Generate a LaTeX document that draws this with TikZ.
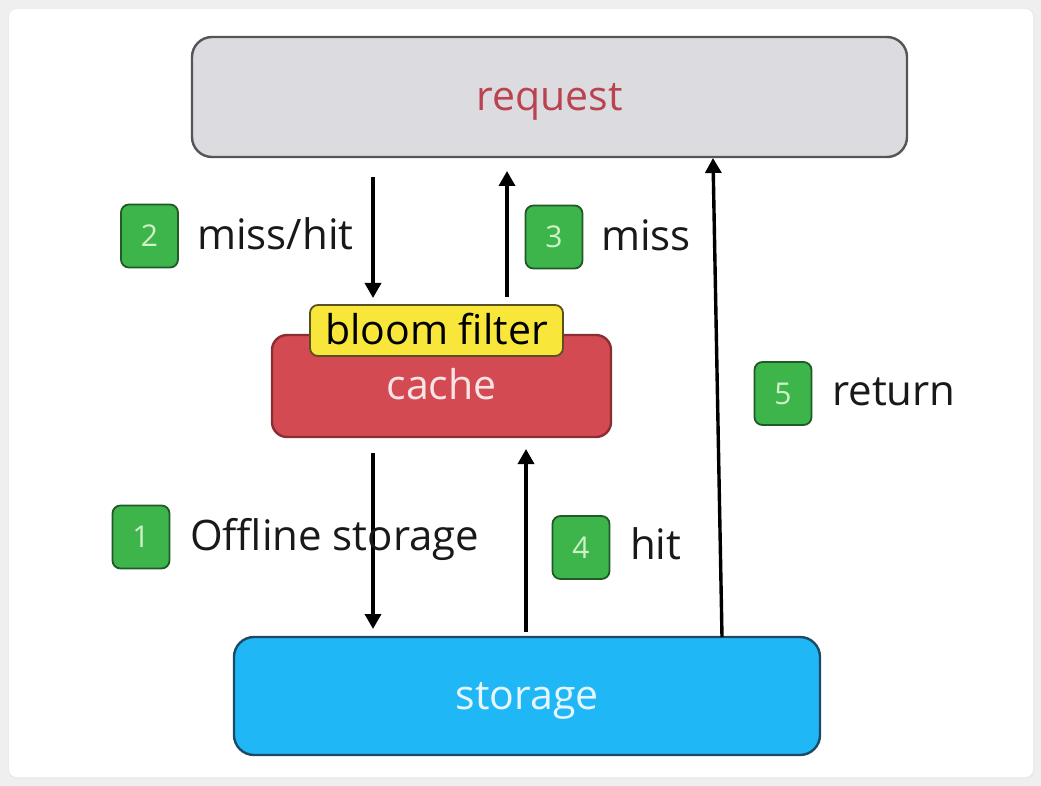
\documentclass[tikz,border=0pt]{standalone}
\usepackage{fontspec}
\setmainfont{Open Sans}
\usetikzlibrary{arrows.meta}
\definecolor{pagebg}{HTML}{EFEFEF}
\definecolor{reqfill}{HTML}{DCDCE0}
\definecolor{reqdraw}{HTML}{555558}
\definecolor{reqtext}{HTML}{B9434F}
\definecolor{cachefill}{HTML}{D44A52}
\definecolor{cachedraw}{HTML}{8A2E34}
\definecolor{cachetext}{HTML}{F8E4E4}
\definecolor{bloomfill}{HTML}{F8E63A}
\definecolor{bloomdraw}{HTML}{5A5020}
\definecolor{storfill}{HTML}{1FB7F6}
\definecolor{stordraw}{HTML}{1E4A66}
\definecolor{stortext}{HTML}{E6F6FF}
\definecolor{badgefill}{HTML}{3DB54B}
\definecolor{badgedraw}{HTML}{1F5A27}
\definecolor{badgetext}{HTML}{CFF2C8}
\tikzset{
  box/.style={draw, line width=2.4pt, inner sep=0pt, text height=27pt, text depth=0pt,
    font=\fontsize{41}{48}\selectfont},
  badge/.style={draw=badgedraw, fill=badgefill, line width=1.8pt, rounded corners=8pt,
    minimum width=57pt, minimum height=63pt, inner sep=0pt, text=badgetext,
    text height=21.4pt, text depth=0pt, font=\fontsize{30}{36}\selectfont},
  lbl/.style={anchor=west, inner sep=0pt, text=black!90, text height=22.5pt, text depth=0pt,
    font=\fontsize{42}{50}\selectfont},
  arr/.style={line width=3.4pt, -{Triangle[length=15pt,width=16pt]}}
}
\begin{document}
\begin{tikzpicture}[x=1pt,y=-1pt]
\fill[pagebg] (0,0) rectangle (1041,786);
\fill[black!8, rounded corners=9pt] (8,8) rectangle (1035,779);
\fill[white, rounded corners=8pt] (9,9) rectangle (1033,777);

\node[box, draw=reqdraw, fill=reqfill, text=reqtext, rounded corners=20pt,
  minimum width=715pt, minimum height=120pt] (request) at (549.5,97) {request};
\node[box, draw=cachedraw, fill=cachefill, text=cachetext, rounded corners=15pt,
  minimum width=339pt, minimum height=102pt] (cache) at (441.5,386) {cache};
\node[box, draw=bloomdraw, fill=bloomfill, text=black, rounded corners=8pt, line width=1.8pt,
  minimum width=253pt, minimum height=51pt] (bloom) at (436.5,330.5) {bloom filter};
\node[box, draw=stordraw, fill=storfill, text=stortext, rounded corners=20pt,
  minimum width=586pt, minimum height=118pt] (storage) at (527,696) {storage};

% arrow end points
\coordinate (a2s) at (373,177);
\coordinate (a2e) at (373,298);
\coordinate (a3s) at (507,297);
\coordinate (a3e) at (507,171);
\coordinate (a1s) at (373,453);
\coordinate (a1e) at (373,629);
\coordinate (a4s) at (526,632);
\coordinate (a4e) at (526,449);
\coordinate (a5s) at (722,637);
\coordinate (a5e) at (713,158);

\draw[arr] (a2s) -- (a2e);
\draw[arr] (a3s) -- (a3e);
\draw[arr] (a1s) -- (a1e);
\draw[arr] (a4s) -- (a4e);
\draw[arr] (a5s) -- (a5e);

% badges and labels
\node[badge] (b2) at (149.5,236) {2};
\node[lbl] (l2) at (197,238) {miss/hit};
\node[badge] (b3) at (554,237) {3};
\node[lbl] (l3) at (601,239) {miss};
\node[badge] (b5) at (783,393.5) {5};
\node[lbl] (l5) at (832,394) {return};
\node[badge] (b1) at (141,537) {1};
\node[lbl] (l1) at (190,539) {Offline storage};
\node[badge] (b4) at (581,547.5) {4};
\node[lbl] (l4) at (630,548) {hit};
\end{tikzpicture}
\end{document}
